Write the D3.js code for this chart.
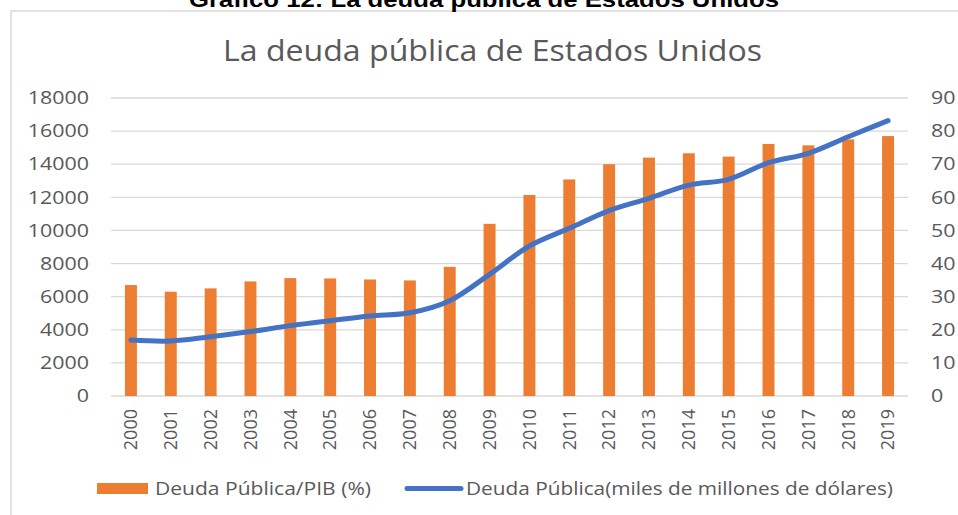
<!DOCTYPE html>
<html>
<head>
<meta charset="utf-8">
<script src="https://cdn.jsdelivr.net/npm/d3@7"></script>
<style>
  body { margin: 0; background: #fff; }
  svg { display: block; }
  text { font-family: "Open Sans", "Noto Sans", sans-serif; fill: #595959; }
</style>
</head>
<body>
<svg id="chart" width="958" height="515"></svg>
<script>
// data
let years = ['2000','2001','2002','2003','2004','2005','2006','2007','2008','2009',
             '2010','2011','2012','2013','2014','2015','2016','2017','2018','2019']
// Deuda Pública/PIB (%) - bars, right axis
let deudaPib = [33.5, 31.5, 32.5, 34.6, 35.6, 35.5, 35.2, 34.9, 39.0, 52.0,
                60.7, 65.4, 70.0, 72.0, 73.3, 72.3, 76.1, 75.7, 77.5, 78.5]
// Deuda Pública (miles de millones de dólares) - line, left axis
let deudaTotal = [3380, 3320, 3580, 3890, 4250, 4550, 4830, 5030, 5760, 7350,
                  9060, 10130, 11200, 11940, 12740, 13090, 14090, 14660, 15660, 16630]
let leftTicks = [0,2000,4000,6000,8000,10000,12000,14000,16000,18000]
let rightTicks = [0,10,20,30,40,50,60,70,80,90]

let header = 'Gráfico 12: La deuda pública de Estados Unidos'
let title = 'La deuda pública de Estados Unidos'
let legendBar = 'Deuda Pública/PIB (%)'
let legendLine = 'Deuda Pública(miles de millones de dólares)'

let orange = '#ED7D31'
let blue = '#4472C4'
let grid = '#D9D9D9'
let stretch = 1.19 // source picture is stretched sideways

let svg = d3.select('#chart')

let plot = { left: 111, right: 908, top: 98, bottom: 396 }

let x = d3.scaleBand()
  .domain(years)
  .range([plot.left, plot.right])
  .paddingInner(0.7)
  .paddingOuter(0.35)

let yLeft = d3.scaleLinear().domain([0, 18000]).range([plot.bottom, plot.top])
let yRight = d3.scaleLinear().domain([0, 90]).range([plot.bottom, plot.top])

// chart frame
svg.append('rect')
  .attr('x', 11).attr('y', 11)
  .attr('width', 1000).attr('height', 600)
  .attr('fill', 'none')
  .attr('stroke', grid)
  .attr('stroke-width', 1.5)

// header above frame (cut at the top like in the source)
svg.append('text')
  .attr('x', 484).attr('y', 7)
  .attr('text-anchor', 'middle')
  .attr('textLength', 590)
  .attr('lengthAdjust', 'spacingAndGlyphs')
  .style('font-family', '"Liberation Sans", Arial, sans-serif')
  .style('font-weight', 'bold')
  .style('font-size', '22px')
  .style('fill', '#000')
  .text(header)

// chart title
svg.append('text')
  .attr('x', 492.5).attr('y', 61)
  .attr('text-anchor', 'middle')
  .attr('textLength', 539)
  .attr('lengthAdjust', 'spacingAndGlyphs')
  .style('font-size', '29px')
  .text(title)

// gridlines
svg.append('g')
  .selectAll('line')
  .data(leftTicks)
  .enter()
  .append('line')
  .attr('x1', plot.left).attr('x2', plot.right)
  .attr('y1', d => yLeft(d)).attr('y2', d => yLeft(d))
  .attr('stroke', grid)
  .attr('stroke-width', 1.3)

function styleTicks(axis) {
  axis.select('.domain').remove()
  axis.selectAll('.tick text')
    .style('font-size', '18px')
    .attr('fill', '#595959')
    .each(function () {
      // widen the label around its anchor
      let t = d3.select(this)
      let xx = +t.attr('x')
      t.attr('transform', `translate(${xx},0) scale(${stretch},1) translate(${-xx},0)`)
    })
}

// left axis
let leftAxis = svg.append('g')
  .attr('transform', `translate(${plot.left},0)`)
  .call(d3.axisLeft(yLeft).tickValues(leftTicks).tickSize(0).tickPadding(22).tickFormat(d3.format('d')))
styleTicks(leftAxis)

// right axis
let rightAxis = svg.append('g')
  .attr('transform', `translate(${plot.right},0)`)
  .call(d3.axisRight(yRight).tickValues(rightTicks).tickSize(0).tickPadding(23))
styleTicks(rightAxis)

// bars
svg.append('g')
  .selectAll('rect')
  .data(deudaPib)
  .enter()
  .append('rect')
  .attr('x', (d, i) => x(years[i]))
  .attr('width', x.bandwidth())
  .attr('y', d => yRight(d))
  .attr('height', d => yRight(0) - yRight(d))
  .attr('fill', orange)

// line
let line = d3.line()
  .x((d, i) => x(years[i]) + x.bandwidth() / 2)
  .y(d => yLeft(d))
  .curve(d3.curveCatmullRom.alpha(0.5))

svg.append('path')
  .datum(deudaTotal)
  .attr('d', line)
  .attr('fill', 'none')
  .attr('stroke', blue)
  .attr('stroke-width', 5)
  .attr('stroke-linecap', 'round')
  .attr('stroke-linejoin', 'round')

// year labels, rotated
svg.append('g')
  .selectAll('text')
  .data(years)
  .enter()
  .append('text')
  .attr('transform', d => `translate(${x(d) + x.bandwidth() / 2},409) rotate(-90)`)
  .attr('text-anchor', 'end')
  .attr('dy', '0.35em')
  .style('font-size', '18px')
  .text(d => d)

// legend
let legend = svg.append('g')
legend.append('rect')
  .attr('x', 97).attr('y', 483)
  .attr('width', 51).attr('height', 11)
  .attr('fill', orange)
legend.append('text')
  .attr('x', 155).attr('y', 495)
  .attr('textLength', 216)
  .attr('lengthAdjust', 'spacingAndGlyphs')
  .style('font-size', '18.5px')
  .text(legendBar)
legend.append('line')
  .attr('x1', 407).attr('x2', 461)
  .attr('y1', 488.5).attr('y2', 488.5)
  .attr('stroke', blue)
  .attr('stroke-width', 5)
  .attr('stroke-linecap', 'round')
legend.append('text')
  .attr('x', 466).attr('y', 495)
  .attr('textLength', 427)
  .attr('lengthAdjust', 'spacingAndGlyphs')
  .style('font-size', '18.5px')
  .text(legendLine)
</script>
</body>
</html>
